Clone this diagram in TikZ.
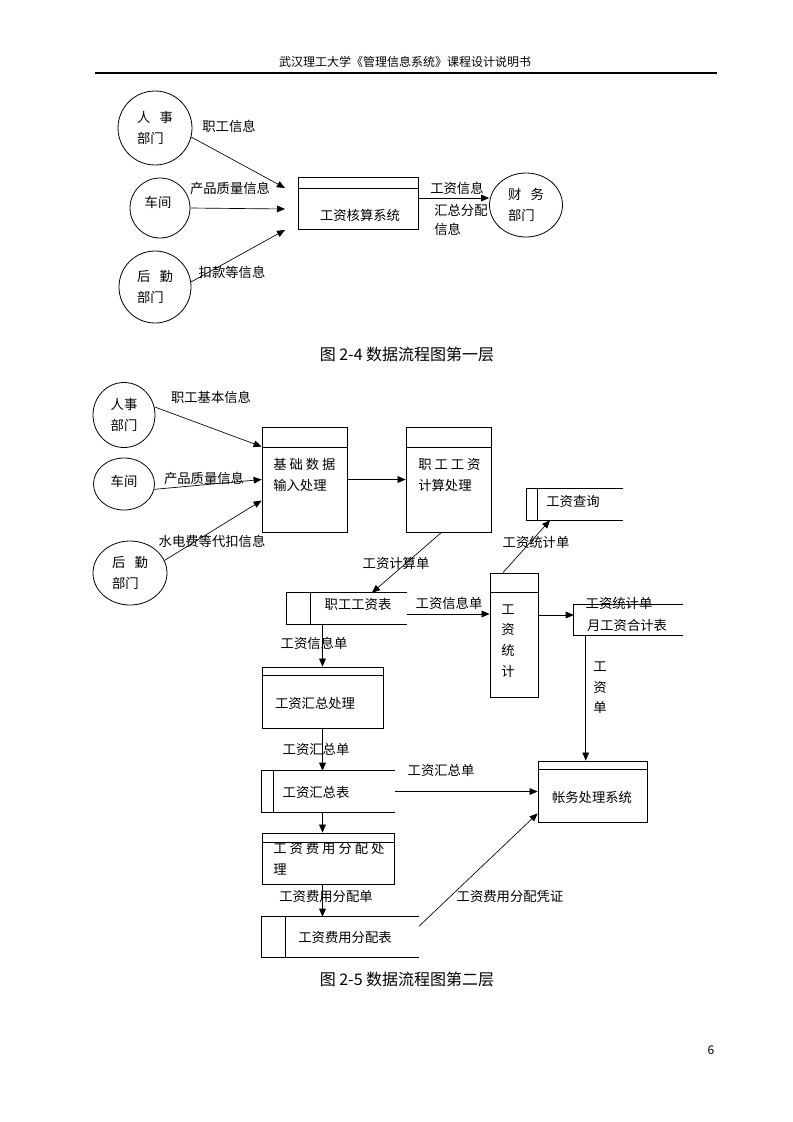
\documentclass[tikz,border=0pt]{standalone}
\usepackage{fontspec}
\usepackage{tikz}
\setmainfont{Noto Sans CJK SC}
\usetikzlibrary{arrows.meta}
\usetikzlibrary{calc}
\usetikzlibrary{positioning}
\usetikzlibrary{shapes.geometric}
\tikzset{
  flow/.style={-{Triangle[length=6pt,width=5pt]}, line width=0.5pt},
  ent/.style={draw, ellipse, line width=0.6pt, inner sep=0pt, align=left,
    font=\fontsize{10}{16}\selectfont},
  procbox/.style={draw, rectangle, line width=0.6pt, inner sep=0pt},
  storebox/.style={rectangle, inner sep=0pt},
  lab/.style={inner sep=0pt, font=\fontsize{10}{15.5}\selectfont},
  captext/.style={inner sep=0pt, font=\fontsize{12}{14}\selectfont}
}

\begin{document}
\begin{tikzpicture}[x=0.75pt, y=-0.75pt]

    \useasboundingbox (0,0) rectangle (793,1122);

    \node [inner sep=0pt, font=\fontsize{9}{11}\selectfont] (head) at (405,62) {武汉理工大学《管理信息系统》课程设计说明书};
    \draw [line width=1.1pt] (95,73) -- (717,73);
    \node [inner sep=0pt, font=\fontsize{9}{11}\selectfont] (pageno) at (711,1050) {6};

    % first level
    \node [ent, minimum width=55.5pt, minimum height=55.5pt] (hr1) at (155,128) {人\hspace{0.7em}事\\部门};
    \node [ent, minimum width=45pt, minimum height=45pt] (ws1) at (160,208) {};
    \node [lab] (ws1l) at (158,202) {车间};
    \node [ent, minimum width=54pt, minimum height=54pt] (lg1) at (155,287) {后\hspace{0.7em}勤\\部门};
    \node [ent, minimum width=54.75pt, minimum height=48pt] (fin) at (526,205) {财\hspace{0.7em}务\\部门};

    \node [procbox, minimum width=90pt, minimum height=39pt] (sys) at (358,203) {};
    \draw [line width=0.6pt] ($(sys.north west)+(0,12)$) -- ($(sys.north east)+(0,12)$);
    \node [lab] (sysl) at (360,215) {工资核算系统};

    \coordinate (e1) at (285,188);
    \coordinate (e2) at (285,209);
    \coordinate (e3) at (285,230);
    \draw [flow] (hr1.-14) -- (e1);
    \draw [flow] (ws1.east) -- (e2);
    \draw [flow] (lg1.8) -- (e3);
    \draw [flow] ($(sys.east)+(0,-5)$) coordinate (o1) -- (o1 -| fin.west);

    \node [lab] (t1) at (229,126) {职工信息};
    \node [lab] (t2) at (230,188) {产品质量信息};
    \node [lab] (t3) at (232,272) {扣款等信息};
    \node [lab, anchor=west] (t4) at (430,188) {工资信息};
    \node [lab, anchor=west] (t5) at (434,210) {汇总分配};
    \node [lab, anchor=west] (t6) at (434,229) {信息};

    \node [captext] (cap1) at (407,354) {图 2-4 数据流程图第一层};

    % second level
    \node [ent, minimum width=46.5pt, minimum height=48.75pt] (hr2) at (124,415) {人事\\部门};
    \node [ent, minimum width=45.75pt, minimum height=39pt] (ws2) at (124,484) {};
    \node [lab] (ws2l) at (124,481) {车间};
    \node [ent, minimum width=55.5pt, minimum height=48pt] (lg2) at (130,573) {后\hspace{0.7em}勤\\部门};

    \node [procbox, minimum width=63.75pt, minimum height=78.75pt] (basic) at (304.5,479.5) {};
    \draw [line width=0.6pt] ($(basic.north west)+(0,21)$) -- ($(basic.north east)+(0,21)$);
    \node [lab, anchor=west, align=left] (basicl) at (273,475) {基 础 数 据\\输入处理};

    \node [procbox, minimum width=63.75pt, minimum height=78.75pt] (wcalc) at (448.5,479.5) {};
    \draw [line width=0.6pt] ($(wcalc.north west)+(0,21)$) -- ($(wcalc.north east)+(0,21)$);
    \node [lab, anchor=west, align=left] (wcalcl) at (418,475) {职 工 工 资\\计算处理};

    \node [storebox, minimum width=90pt, minimum height=23.25pt] (wt) at (347,608.5) {};
    \draw [line width=0.6pt] (wt.north east) -- (wt.north west) -- (wt.south west) -- (wt.south east);
    \draw [line width=0.6pt] ($(wt.north west)+(24,0)$) -- ($(wt.south west)+(24,0)$);
    \node [lab] (wtl) at (358,604) {职工工资表};

    \node [procbox, minimum width=36pt, minimum height=93pt] (stat) at (514,635) {};
    \draw [line width=0.6pt] ($(stat.north west)+(0,20)$) -- ($(stat.north east)+(0,20)$);
    \node [lab, align=center] (statl) at (508,641) {工\\资\\统\\计};

    \node [storebox, minimum width=72pt, minimum height=23.25pt] (qry) at (575,504.5) {};
    \draw [line width=0.6pt] (qry.north east) -- (qry.north west) -- (qry.south west) -- (qry.south east);
    \draw [line width=0.6pt] ($(qry.north west)+(11,0)$) -- ($(qry.south west)+(11,0)$);
    \node [lab] (qryl) at (573,501) {工资查询};

    \node [storebox, minimum width=81.75pt, minimum height=22.5pt] (mon) at (628.5,620) {};
    \draw [line width=0.6pt] (mon.north east) -- (mon.north west) -- (mon.south west) -- (mon.south east);
    \node [lab] (monl) at (627,625) {月工资合计表};

    \node [procbox, minimum width=81.75pt, minimum height=45.75pt] (acct) at (592.5,791.5) {};
    \draw [line width=0.6pt] ($(acct.north west)+(0,9)$) -- ($(acct.north east)+(0,9)$);
    \node [lab] (acctl) at (592,797) {帐务处理系统};

    \node [procbox, minimum width=90.75pt, minimum height=45.75pt] (sump) at (322.5,697.5) {};
    \draw [line width=0.6pt] ($(sump.north west)+(0,9)$) -- ($(sump.north east)+(0,9)$);
    \node [lab] (sumpl) at (315,703) {工资汇总处理};

    \node [storebox, minimum width=99.75pt, minimum height=30.75pt] (sums) at (328.5,791.5) {};
    \draw [line width=0.6pt] (sums.north east) -- (sums.north west) -- (sums.south west) -- (sums.south east);
    \draw [line width=0.6pt] ($(sums.north west)+(12,0)$) -- ($(sums.south west)+(12,0)$);
    \node [lab] (sumsl) at (316,792) {工资汇总表};

    \node [procbox, minimum width=99pt, minimum height=38.25pt] (alp) at (328,858.5) {};
    \draw [line width=0.6pt] ($(alp.north west)+(0,10)$) -- ($(alp.north east)+(0,10)$);
    \node [lab, anchor=west, align=left] (alpl) at (273,859) {工 资 费 用 分 配 处\\理};

    \node [storebox, minimum width=117.75pt, minimum height=30pt] (als) at (340.5,937) {};
    \draw [line width=0.6pt] (als.north east) -- (als.north west) -- (als.south west) -- (als.south east);
    \draw [line width=0.6pt] ($(als.north west)+(24,0)$) -- ($(als.south west)+(24,0)$);
    \node [lab] (alsl) at (345,937) {工资费用分配表};

    \draw [flow] (hr2.15) -- ($(basic.north west)+(0,20)$);
    \draw [flow] (ws2.-10) -- (basic.west);
    \draw [flow] (lg2.20) -- ($(basic.west)+(0,21)$);
    \draw [flow] (basic.east) -- (wcalc.west);
    \draw [flow] ($(wcalc.south)+(-7,0)$) -- ($(wt.north)+(25,0)$);
    \draw [flow] ($(wt.east)+(0,5.5)$) coordinate (o2) -- (o2 -| stat.west);
    \draw [flow] ($(stat.north)+(-11,0)$) -- ($(qry.south)+(-25,0)$);
    \draw [flow] ($(stat.east)+(0,-20)$) coordinate (o3) -- (o3 -| mon.west);
    \draw [flow] ($(mon.south west)+(12,0)$) coordinate (o4) -- (o4 |- acct.north);
    \draw [flow] (sump.north |- wt.south) -- (sump.north);
    \draw [flow] (sump.south) -- (sump.south |- sums.north);
    \draw [flow] (sums.east) -- (acct.west);
    \draw [flow] (sump.south |- sums.south) -- (sump.south |- alp.north);
    \draw [flow] (sump.south |- alp.south) -- (sump.south |- als.north);
    \draw [flow] ($(als.east)+(0,-11)$) -- ($(acct.south west)+(0,-9)$);

    \node [lab] (b1) at (211,397) {职工基本信息};
    \node [lab] (b2) at (204,478) {产品质量信息};
    \node [lab] (b3) at (212,541) {水电费等代扣信息};
    \node [lab] (b4) at (396,563) {工资计算单};
    \node [lab] (b5) at (449,603) {工资信息单};
    \node [lab] (b6) at (536,542) {工资统计单};
    \node [lab] (b7) at (619,603) {工资统计单};
    \node [lab, align=center] (b8) at (600,688) {工\\资\\单};
    \node [lab] (b9) at (314,643) {工资信息单};
    \node [lab] (b10) at (316,749) {工资汇总单};
    \node [lab] (b11) at (441,770) {工资汇总单};
    \node [lab] (b12) at (326,896) {工资费用分配单};
    \node [lab] (b13) at (510,896) {工资费用分配凭证};

    \node [captext] (cap2) at (407,979) {图 2-5 数据流程图第二层};

  \end{tikzpicture}
\end{document}
